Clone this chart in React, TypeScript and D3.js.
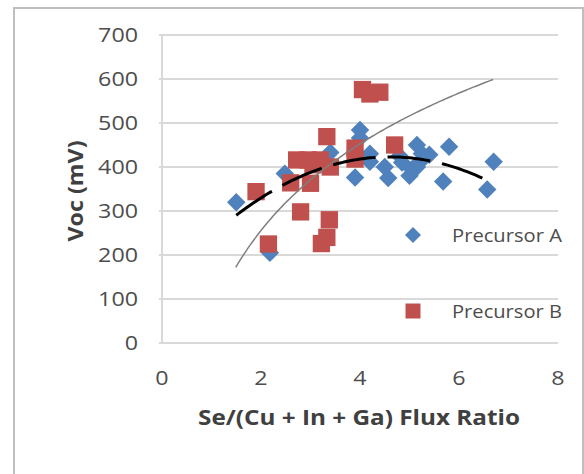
import React from 'react';
import * as d3 from 'd3';

// Precursor A (blue diamonds): [flux ratio, Voc]
const precursorA: [number, number][] = [
  [1.5, 320], [2.18, 205], [2.48, 385], [3.4, 433], [3.9, 376],
  [4.0, 484], [4.0, 466], [4.2, 430], [4.2, 412], [4.5, 400],
  [4.57, 375], [4.8, 425], [4.85, 410], [5.0, 380], [5.05, 395],
  [5.15, 450], [5.15, 400], [5.2, 410], [5.25, 430], [5.4, 428],
  [5.68, 367], [5.8, 446], [6.57, 349], [6.7, 412],
];

// Precursor B (red squares)
const precursorB: [number, number][] = [
  [1.9, 344], [2.15, 225], [2.6, 364], [2.72, 416], [2.8, 298],
  [2.95, 416], [3.0, 363], [3.05, 405], [3.2, 416], [3.22, 226],
  [3.33, 240], [3.38, 280], [3.33, 469], [3.4, 400], [3.9, 443],
  [3.9, 418], [4.05, 576], [4.2, 566], [4.4, 570], [4.7, 450],
];

// trendlines
const polyTrend = { peak: 423, peakX: 4.6, curve: -13.8, from: 1.5, to: 6.55 };
const logTrend = { a: 58.6, b: 284.3, from: 1.49, to: 6.69 };

const xTicks = [0, 2, 4, 6, 8];
const yTicks = [0, 100, 200, 300, 400, 500, 600, 700];
const legendItems = ['Precursor A', 'Precursor B'];

const W = 584;
const H = 474;
const font = "'Open Sans', 'DejaVu Sans', sans-serif";
const textColor = '#4d4d4d';
const blue = '#4f81bd';
const red = '#c0504d';

export default function App() {
  const x = d3.scaleLinear().domain([0, 8]).range([162, 558]);
  const y = d3.scaleLinear().domain([0, 700]).range([343, 35]);

  const diamond = d3.symbol().type(d3.symbolSquare).size(170)()!;
  const square = d3.symbol().type(d3.symbolSquare).size(300)()!;
  const legendDiamond = d3.symbol().type(d3.symbolSquare).size(128)()!;
  const legendSquare = d3.symbol().type(d3.symbolSquare).size(225)()!;

  const line = d3.line<[number, number]>().x(d => x(d[0])).y(d => y(d[1])).curve(d3.curveMonotoneX);

  const polyPts: [number, number][] = d3.range(polyTrend.from, polyTrend.to + 0.001, 0.05)
    .map(v => [v, polyTrend.peak + polyTrend.curve * (v - polyTrend.peakX) ** 2]);
  const logPts: [number, number][] = d3.range(logTrend.from, logTrend.to + 0.001, 0.05)
    .map(v => [v, logTrend.a + logTrend.b * Math.log(v)]);

  return (
    <svg width={W} height={H} style={{ position: 'absolute', left: 0, top: 0 }} fontFamily={font}>
      <rect x={0} y={0} width={W} height={H} fill="#fff" />
      <rect x={14} y={8} width={569} height={480} fill="none" stroke="#bfbfbf" strokeWidth={2} />

      {/* gridlines */}
      {yTicks.map(t => (
        <line key={t} x1={x(0) - 3} x2={x(8)} y1={y(t)} y2={y(t)} stroke="#d9d9d9" strokeWidth={2} />
      ))}
      <line x1={x(0)} x2={x(0)} y1={y(700)} y2={y(0)} stroke="#d9d9d9" strokeWidth={2} />

      {/* y tick labels */}
      {yTicks.map(t => (
        <text key={t} x={138} y={y(t)} dy="0.35em" textAnchor="end" fontSize={20} fill={textColor}
          textLength={String(t).length * 13.3} lengthAdjust="spacingAndGlyphs">{t}</text>
      ))}
      {/* x tick labels */}
      {xTicks.map(t => (
        <text key={t} x={x(t)} y={378} dy="0.35em" textAnchor="middle" fontSize={20} fill={textColor}
          textLength={13.3} lengthAdjust="spacingAndGlyphs">{t}</text>
      ))}

      <text x={359} y={417} dy="0.35em" textAnchor="middle" fontSize={22} fontWeight="bold" fill="#404040"
        textLength={322} lengthAdjust="spacingAndGlyphs">
        Se/(Cu + In + Ga) Flux Ratio
      </text>
      <text transform="translate(75,191) rotate(-90)" dy="0.35em" textAnchor="middle" fontSize={22} fontWeight="bold" fill="#404040"
        textLength={101} lengthAdjust="spacingAndGlyphs">
        Voc (mV)
      </text>

      {/* series */}
      {precursorA.map((d, i) => (
        <path key={'a' + i} d={diamond} transform={`translate(${x(d[0])},${y(d[1])}) rotate(45)`} fill={blue} />
      ))}
      {precursorB.map((d, i) => (
        <path key={'b' + i} d={square} transform={`translate(${x(d[0])},${y(d[1])})`} fill={red} />
      ))}

      {/* trendlines */}
      <path d={line(polyPts)!} fill="none" stroke="#000" strokeWidth={3} strokeDasharray="43 12" />
      <path d={line(logPts)!} fill="none" stroke="#7f7f7f" strokeWidth={1.5} />

      {/* legend */}
      {legendItems.map((name, i) => {
        const ly = i === 0 ? 235 : 311;
        return (
          <g key={name}>
            <path d={i === 0 ? legendDiamond : legendSquare}
              transform={`translate(413,${ly})${i === 0 ? ' rotate(45)' : ''}`}
              fill={i === 0 ? blue : red} />
            <text x={452} y={ly} dy="0.35em" fontSize={19} fill={textColor}
              textLength={110} lengthAdjust="spacingAndGlyphs">{name}</text>
          </g>
        );
      })}
    </svg>
  );
}
